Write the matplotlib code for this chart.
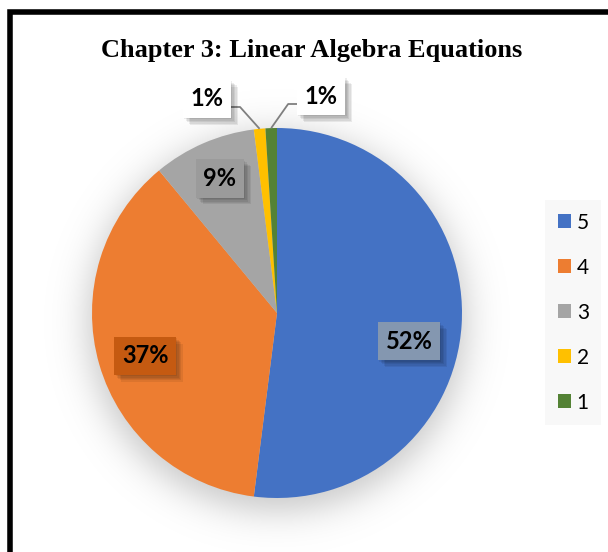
import numpy as np
import matplotlib
matplotlib.use("Agg")
import matplotlib.pyplot as plt
import matplotlib.patheffects as pe
from matplotlib.patches import Rectangle

# Chart data
categories = ["5", "4", "3", "2", "1"]
percentages = [52, 37, 9, 1, 1]
colors = ["#4472C4", "#ED7D31", "#A5A5A5", "#FFC000", "#548235"]
label_fill = ["#8497B0", "#C55A11", "#9B9B9B", "white", "white"]
title = "Chapter 3: Linear Algebra Equations"

W, H = 608, 552
fig = plt.figure(figsize=(W / 100, H / 100), dpi=100)
fig.patch.set_facecolor("white")
ax = fig.add_axes([0, 0, 1, 1])

# Pie geometry in pixel units of the canvas
cx, cy, R = 277, 239, 185

# Soft drop shadow under the pie
yy, xx = np.mgrid[0:H, 0:W] + 0.5
dist = np.hypot(xx - cx, yy - (cy - 9))
alpha = 0.22 / (1.0 + np.exp((dist - R - 4) / 11.0))
shadow = np.zeros((H, W, 4))
shadow[..., 3] = alpha
ax.imshow(shadow, extent=(0, W, 0, H), origin="lower", zorder=0,
          interpolation="bilinear")

wedges, _ = ax.pie(percentages, colors=colors, startangle=90,
                   counterclock=False, radius=R, center=(cx, cy),
                   wedgeprops=dict(linewidth=0))
for w in wedges:
    w.set_zorder(2)

ax.set_xlim(0, W)
ax.set_ylim(0, H)
ax.set_aspect("equal")
ax.axis("off")

total = float(sum(percentages))
starts = 90 - 360 * np.concatenate([[0], np.cumsum(percentages)[:-1]]) / total
mids = starts - 180 * np.array(percentages) / total

label_font = dict(family="Lato", weight="bold", size=17, color="black")


def box_shadow(txt):
    patch = txt.get_bbox_patch()
    effects = [pe.SimplePatchShadow(offset=(o, -o), shadow_rgbFace="black",
                                    alpha=0.07) for o in (1, 2, 3, 4, 5)]
    patch.set_path_effects(effects + [pe.Normal()])


# Placement of labels: (radial factor, angular nudge in degrees)
inside_place = {0: (0.73, -8.4), 1: (0.75, 1.8), 2: (0.79, -0.4)}
outside_place = {3: (1.217, 12.7), 4: (1.197, -13.3)}

for i, p in enumerate(percentages):
    text = f"{p}%"
    if i in inside_place:
        f, nud = inside_place[i]
        a = np.radians(mids[i] + nud)
        x, y = cx + f * R * np.cos(a), cy + f * R * np.sin(a)
        t = ax.text(x, y, text, ha="center", va="center", zorder=5,
                    bbox=dict(boxstyle="square,pad=0.32", fc=label_fill[i],
                              ec="none"), **label_font)
        box_shadow(t)
    else:
        f, nud = outside_place[i]
        a = np.radians(mids[i] + nud)
        x, y = cx + f * R * np.cos(a), cy + f * R * np.sin(a)
        t = ax.text(x, y, text, ha="center", va="center", zorder=5,
                    bbox=dict(boxstyle="square,pad=0.32", fc=label_fill[i],
                              ec="none"), **label_font)
        box_shadow(t)
        # leader line from the slice edge to the label box
        am = np.radians(mids[i])
        ex, ey = cx + R * np.cos(am), cy + R * np.sin(am)
        side = -1 if x > ex else 1
        half_w = 23
        end_x = x + side * half_w
        by = y - 8
        bx = end_x + side * 10
        ax.plot([ex, bx, end_x], [ey, by, by], color="#7F7F7F", lw=1.3,
                zorder=4, solid_capstyle="butt")

# Title
fig.text(312 / W, 1 - 50 / H, title, ha="center", va="center",
         family="Liberation Serif", weight="bold", size=19)

# Legend
leg = ax.legend(wedges, categories, loc="upper left",
                bbox_to_anchor=(545 / W, 1 - 200 / H),
                bbox_transform=fig.transFigure, frameon=True,
                prop=dict(family="Lato", size=15),
                handlelength=0.67, handleheight=0.67, handletextpad=0.25,
                labelspacing=1.2, borderpad=0.6, borderaxespad=0)
leg.get_frame().set_facecolor("#F7F7F7")
leg.get_frame().set_edgecolor("none")
leg.get_frame().set_boxstyle("square", pad=0)
leg.set_zorder(6)

# Outer frame (open toward right and bottom edges)
frame = Rectangle((9.8 / W, -0.1), 1.2, (1 - 11.5 / H) + 0.1,
                  transform=fig.transFigure, fill=False, lw=4,
                  edgecolor="black", clip_on=False)
fig.add_artist(frame)

fig.savefig("out.png", dpi=100, facecolor="white")
